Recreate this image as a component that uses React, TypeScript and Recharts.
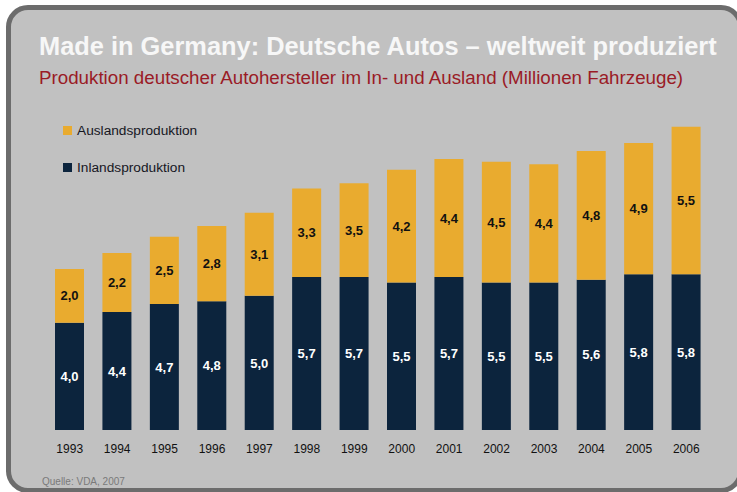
import { BarChart, Bar, XAxis, YAxis, LabelList } from "recharts";

const years = ["1993", "1994", "1995", "1996", "1997", "1998", "1999", "2000", "2001", "2002", "2003", "2004", "2005", "2006"];
const inland = [4.0, 4.4, 4.7, 4.8, 5.0, 5.7, 5.7, 5.5, 5.7, 5.5, 5.5, 5.6, 5.8, 5.8];
const ausland = [2.0, 2.2, 2.5, 2.8, 3.1, 3.3, 3.5, 4.2, 4.4, 4.5, 4.4, 4.8, 4.9, 5.5];

const NAVY = "#0c243d";
const ORANGE = "#e9ab2f";
const FONT = '"Liberation Sans", Arial, sans-serif';

const data = years.map((year, i) => ({ year, inland: inland[i], ausland: ausland[i] }));

const fmt = (v: any) => Number(v).toFixed(1).replace(".", ",");

function YearTick(props: any) {
  const { x, y, payload } = props;
  return (
    <text x={x} y={y} dy={15} textAnchor="middle" fontSize={12} fill="#111" fontFamily={FONT}>
      {payload.value}
    </text>
  );
}

// legend drawn as plain html so it takes no room from the plot
function LegendBox() {
  const items = [
    { label: "Auslandsproduktion", color: ORANGE },
    { label: "Inlandsproduktion", color: NAVY },
  ];
  return (
    <div style={{ position: "absolute", left: 63, top: 123 }}>
      {items.map((it) => (
        <div key={it.label} style={{ display: "flex", alignItems: "center", height: 14, marginBottom: 23 }}>
          <span style={{ width: 9, height: 9, background: it.color, marginRight: 5, display: "inline-block" }} />
          <span style={{ fontSize: 13.7, color: "#16161f" }}>{it.label}</span>
        </div>
      ))}
    </div>
  );
}

export default function App() {
  return (
    <div style={{ position: "fixed", left: 0, top: 0, width: 737, height: 492, background: "#fff", overflow: "hidden", fontFamily: FONT }}>
      <div
        style={{
          position: "absolute",
          left: 6,
          top: 5,
          width: 737,
          height: 488,
          boxSizing: "border-box",
          border: "5px solid #6c6c6c",
          borderRadius: 22,
          background: "#c1c1c1",
        }}
      />
      <div style={{ position: "absolute", left: 39, top: 34, fontSize: 25.4, lineHeight: "25px", fontWeight: "bold", color: "#f7f7f7", whiteSpace: "nowrap" }}>
        Made in Germany: Deutsche Autos – weltweit produziert
      </div>
      <div style={{ position: "absolute", left: 39, top: 69, fontSize: 18.75, lineHeight: "18.5px", color: "#9a1b26", whiteSpace: "nowrap" }}>
        Produktion deutscher Autohersteller im In- und Ausland (Millionen Fahrzeuge)
      </div>
      <LegendBox />
      <div style={{ position: "absolute", left: 42, top: 477, fontSize: 10, lineHeight: "10px", color: "#7a7a7a" }}>Quelle: VDA, 2007</div>
      <div style={{ position: "absolute", left: 0, top: 0 }}>
        <BarChart width={737} height={492} data={data} margin={{ top: 108, right: 27, bottom: 32, left: 46 }} barSize={29}>
          <XAxis dataKey="year" axisLine={false} tickLine={false} height={30} tick={<YearTick />} interval={0} />
          <YAxis hide type="number" domain={[0, 12]} allowDataOverflow ticks={[0, 12]} />
          <Bar dataKey="inland" stackId="a" fill={NAVY} isAnimationActive={false}>
            <LabelList dataKey="inland" position="center" formatter={fmt} fill="#fff" fontSize={13} fontWeight="bold" fontFamily={FONT} />
          </Bar>
          <Bar dataKey="ausland" stackId="a" fill={ORANGE} isAnimationActive={false}>
            <LabelList dataKey="ausland" position="center" formatter={fmt} fill="#111" fontSize={13} fontWeight="bold" fontFamily={FONT} />
          </Bar>
        </BarChart>
      </div>
    </div>
  );
}
